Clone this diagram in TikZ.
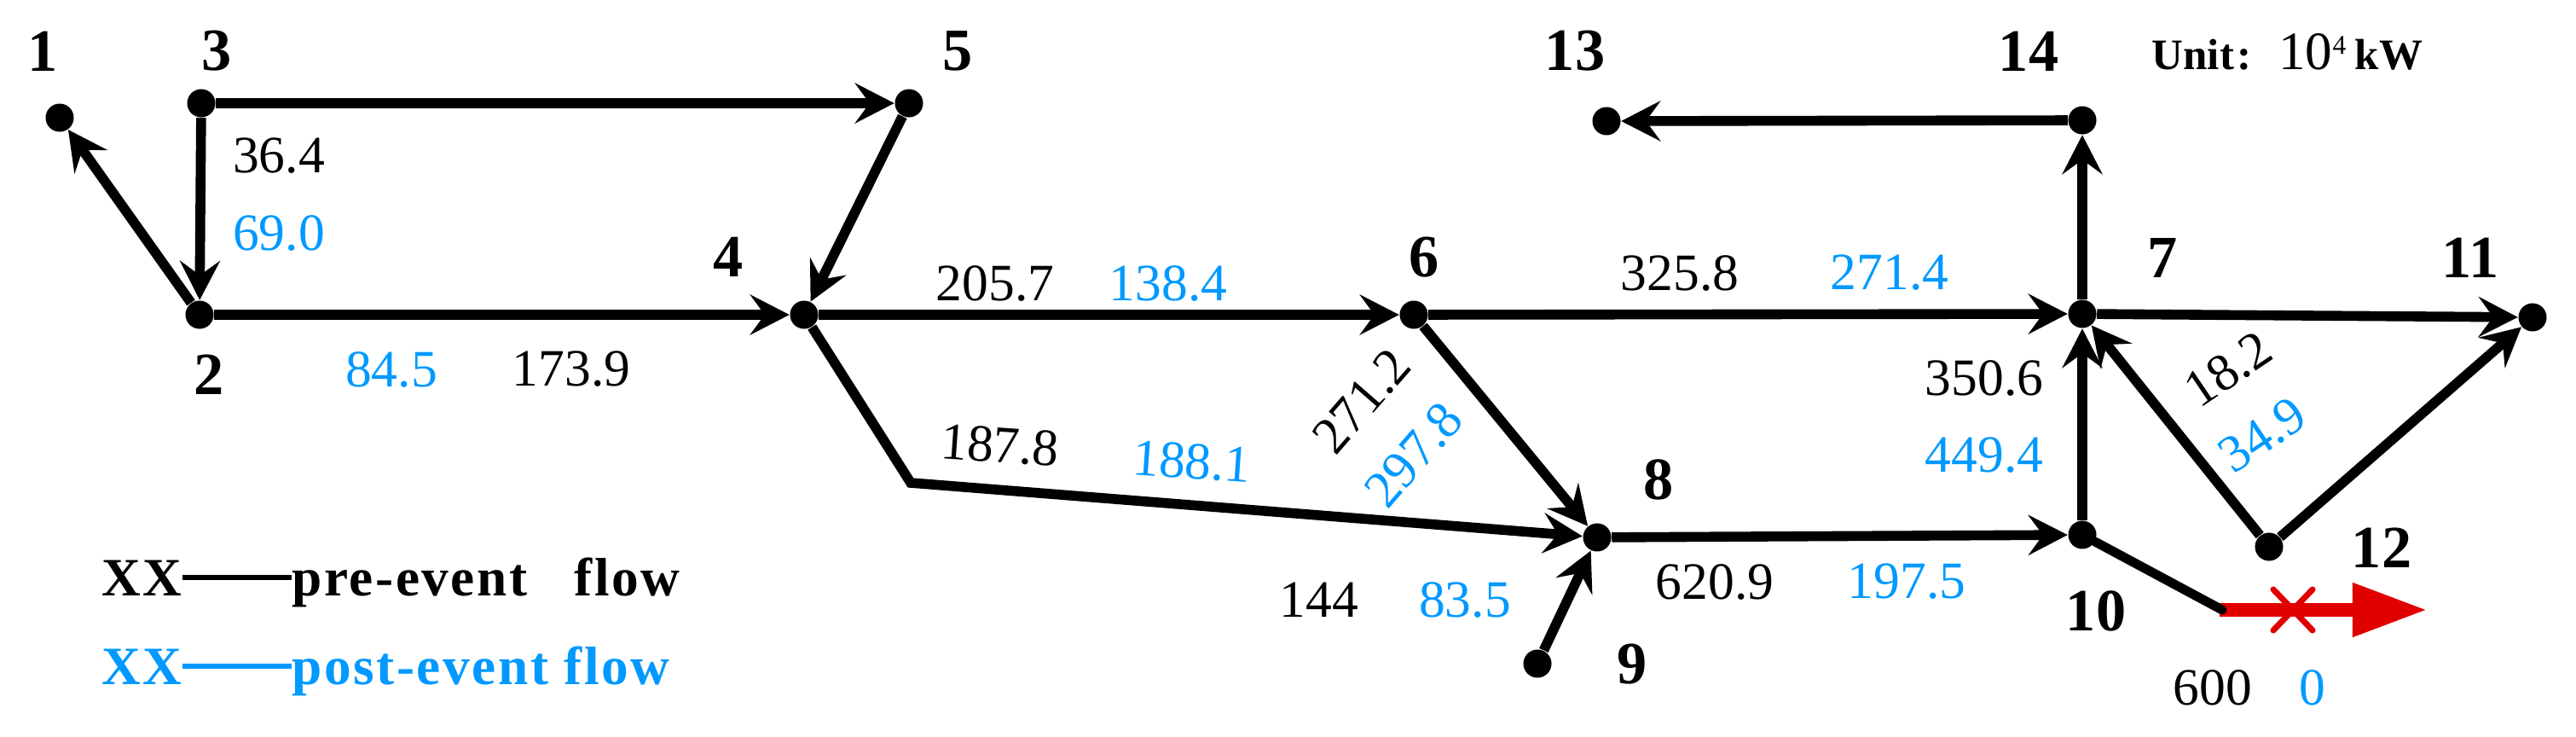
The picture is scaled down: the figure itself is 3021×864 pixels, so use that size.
\documentclass[tikz,border=0pt]{standalone}
\usepackage{fontspec}
\setmainfont{Liberation Serif}
\usetikzlibrary{arrows.meta}
\definecolor{postblue}{RGB}{0,153,255}
\definecolor{cutred}{RGB}{225,0,0}
\tikzset{
      bus/.style = { circle, fill=black, inner sep=0pt, minimum size=0.33cm },
    busno/.style = { font=\bfseries\fontsize{20}{24}\selectfont, inner sep=0pt, anchor=center },
      pre/.style = { font=\fontsize{17.5}{21}\selectfont, inner sep=0pt, anchor=center },
     post/.style = { pre, text=postblue },
   keytxt/.style = { font=\bfseries\fontsize{18}{22}\selectfont\addfontfeatures{LetterSpace=4},
                     inner sep=0pt, anchor=base west },
     flow/.style = { line width=3.3pt, -{Stealth[length=0.46cm, width=0.47cm, inset=0.17cm]} },
      tie/.style = { line width=3.1pt, line cap=round },
  outflow/.style = { line width=4.8pt, color=cutred, -{Triangle[length=0.88cm, width=0.59cm]} },
}
\newcommand*{\unitnote}{{\fontsize{14.5}{17}\selectfont\bfseries Unit\hspace{1pt}:\hspace{9pt}}%
  {\fontsize{18}{21}\selectfont 10}\raisebox{5.4pt}{\fontsize{9}{10}\selectfont 4}%
  {\fontsize{14.5}{17}\selectfont\bfseries\hspace{3pt}kW}}

\begin{document}
\begin{tikzpicture}[x=0.01cm, y=-0.01cm]
  \useasboundingbox (0,0) rectangle (3021,864);
  \foreach \n/\x/\y in {1/70/138, 2/234/369, 3/236/121, 4/943/369, 5/1066/121,
                        6/1658/369, 7/2442/368, 8/1873/630, 9/1803/778, 10/2442/627,
                        11/2970/372, 12/2661/641, 13/1884/142, 14/2442/141}
    \node[bus] (b\n) at (\x,\y) {};
  \foreach \n/\x/\y in {1/50/60, 2/245/439, 3/254/60, 4/854/301, 5/1123/60,
                        6/1670/302, 7/2536/302, 8/1945/562, 9/1914/779, 10/2458/716,
                        11/2897/302, 12/2793/642, 13/1847/60, 14/2379/60}
    \node[busno] (n\n) at (\x,\y) {\n};

  \coordinate (kink) at (1068,566);
  \coordinate (cut)  at (2606,715);
  \coordinate (rtip) at (2847,715);
  \coordinate (brk)  at (2689,715);

  \foreach \i/\j in {2/1, 3/2, 3/5, 5/4, 2/4, 4/6, 6/8, 9/8, 8/10,
                     6/7, 10/7, 7/14, 14/13, 7/11, 12/7, 12/11}
    \draw [flow] (b\i) -- (b\j);
  \draw [flow] (b4) -- (kink) -- (b8);

  \draw [outflow] ([xshift=-0.03cm]cut) -- (rtip);
  \draw [tie] (b10) -- (cut);
  \draw [cutred, line width=2pt, line cap=round]
    (brk) ++(-23,-24) -- ++(46,48)
    (brk) ++(-23,24) -- ++(46,-48);

  \foreach \t/\x/\y/\r [count=\k] in {36.4/327/183/0, 173.9/670/433/0, 205.7/1167/332/0,
                        187.8/1173/522/-4, 271.2/1597/470/49, 325.8/1970/320/0,
                        144/1547/703/0, 620.9/2011/682/0, 350.6/2327/443/0,
                        18.2/2613/433/34, 600/2595/806/0}
    \node[pre, rotate=\r] (pre\k) at (\x,\y) {\t};
  \foreach \t/\x/\y/\r [count=\k] in {69.0/327/273/0, 84.5/459/433/0, 138.4/1370/332/0,
                        188.1/1398/541/-4, 297.8/1658/533/49, 271.4/2216/320/0,
                        83.5/1718/703/0, 197.5/2236/682/0, 449.4/2327/534/0,
                        34.9/2653/510/34, 0/2712/806/0}
    \node[post, rotate=\r] (post\k) at (\x,\y) {\t};

  \node[inner sep=0pt, anchor=base west] (unit) at (2523,82) {\unitnote};

  \node[keytxt] (keyA) at (119,698) {XX};
  \node[keytxt] (keyAtxt) at (342,698) {pre-event~~~flow};
  \draw [line width=1.7pt] (keyA.east) -- (keyA.east -| keyAtxt.west);
  \node[keytxt, text=postblue] (keyB) at (119,802) {XX};
  \node[keytxt, text=postblue] (keyBtxt) at (342,802) {post-event flow};
  \draw [line width=1.7pt, postblue] (keyB.east) -- (keyB.east -| keyBtxt.west);
\end{tikzpicture}
\end{document}
